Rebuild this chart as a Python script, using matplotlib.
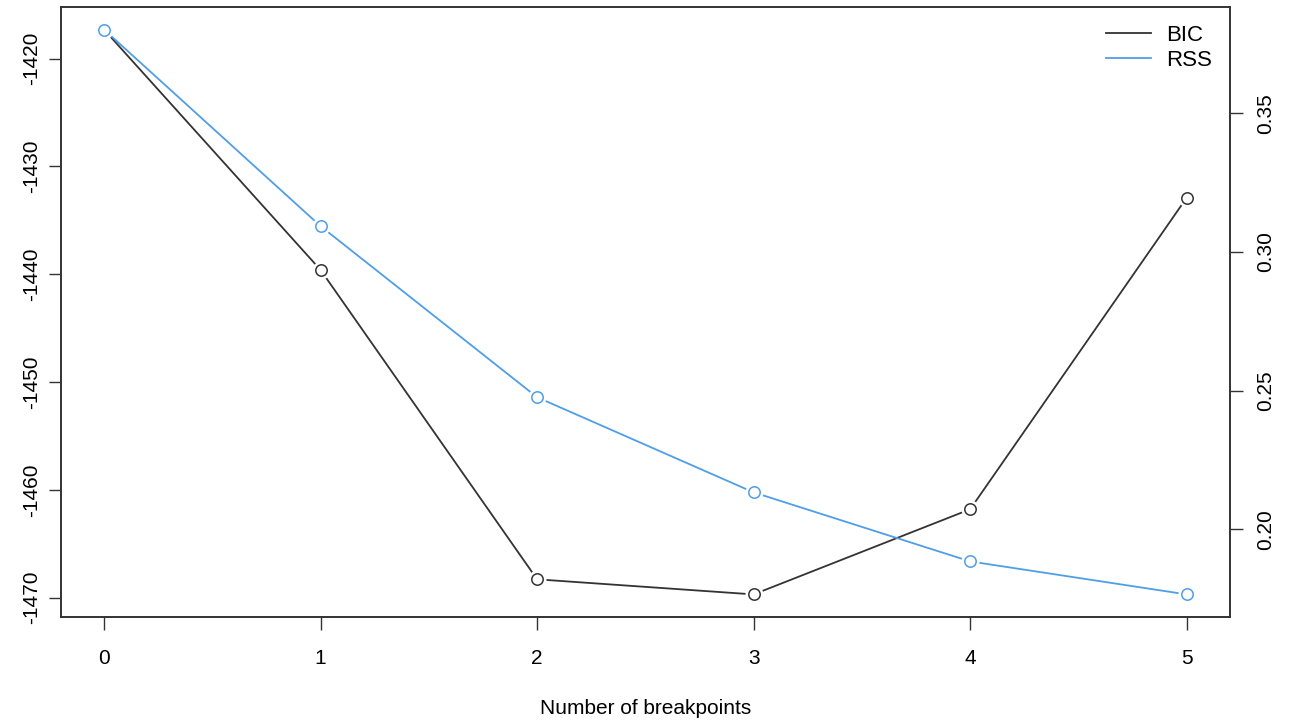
import matplotlib
matplotlib.use('Agg')
import matplotlib.pyplot as plt
from matplotlib.lines import Line2D

breakpoints = [0, 1, 2, 3, 4, 5]
bic = [-1417.3, -1439.6, -1468.3, -1469.7, -1461.8, -1432.9]
rss = [0.3802, 0.3093, 0.2476, 0.2133, 0.1884, 0.1765]
bic_ticks = [-1470, -1460, -1450, -1440, -1430, -1420]
rss_ticks = [0.20, 0.25, 0.30, 0.35]

black = '#333333'
blue = '#4f9ee8'

plt.rcParams['font.family'] = ['Liberation Sans', 'DejaVu Sans']
plt.rcParams['font.size'] = 15

fig = plt.figure(figsize=(12.98, 7.27), dpi=100)
ax = fig.add_axes([0.0468, 0.1513, 0.9008, 0.8391])
ax2 = ax.twinx()


def draw_b(axis, x, y, color):
    # R type="b": line with small gaps around open circles
    axis.plot(x, y, color=color, lw=1.3, zorder=2)
    axis.plot(x, y, 'o', color='white', ms=13, mew=0, zorder=3)
    axis.plot(x, y, 'o', mfc='white', mec=color, ms=8.2, mew=1.1, zorder=4)


draw_b(ax, breakpoints, bic, black)
draw_b(ax2, breakpoints, rss, blue)

span = max(bic) - min(bic)
ax.set_ylim(min(bic) - 0.04 * span, max(bic) + 0.04 * span)
span = max(rss) - min(rss)
ax2.set_ylim(min(rss) - 0.04 * span, max(rss) + 0.04 * span)
ax.set_xlim(-0.2, 5.2)

ax.set_xticks(breakpoints)
ax.set_xticklabels([str(b) for b in breakpoints])
ax.set_yticks(bic_ticks)
ax.set_yticklabels([str(t) for t in bic_ticks], rotation=90, va='center')
ax2.set_yticks(rss_ticks)
ax2.set_yticklabels([f'{t:.2f}' for t in rss_ticks], rotation=90, va='center')

for a in (ax, ax2):
    for s in a.spines.values():
        s.set_color(black)
        s.set_linewidth(1.2)
    a.tick_params(length=9, width=1, color=black)
ax.tick_params(axis='y', pad=5)
ax2.tick_params(axis='y', pad=10)
ax.tick_params(axis='x', pad=14)

ax.set_xlabel('Number of breakpoints', labelpad=22)

handles = [Line2D([], [], color=black, lw=1.3), Line2D([], [], color=blue, lw=1.3)]
ax2.legend(handles, ['BIC', 'RSS'], loc='upper right', frameon=False,
           handlelength=2.0, borderaxespad=0.4, labelspacing=0.2,
           handletextpad=0.7, fontsize=16)

fig.savefig('out.png', dpi=100)
